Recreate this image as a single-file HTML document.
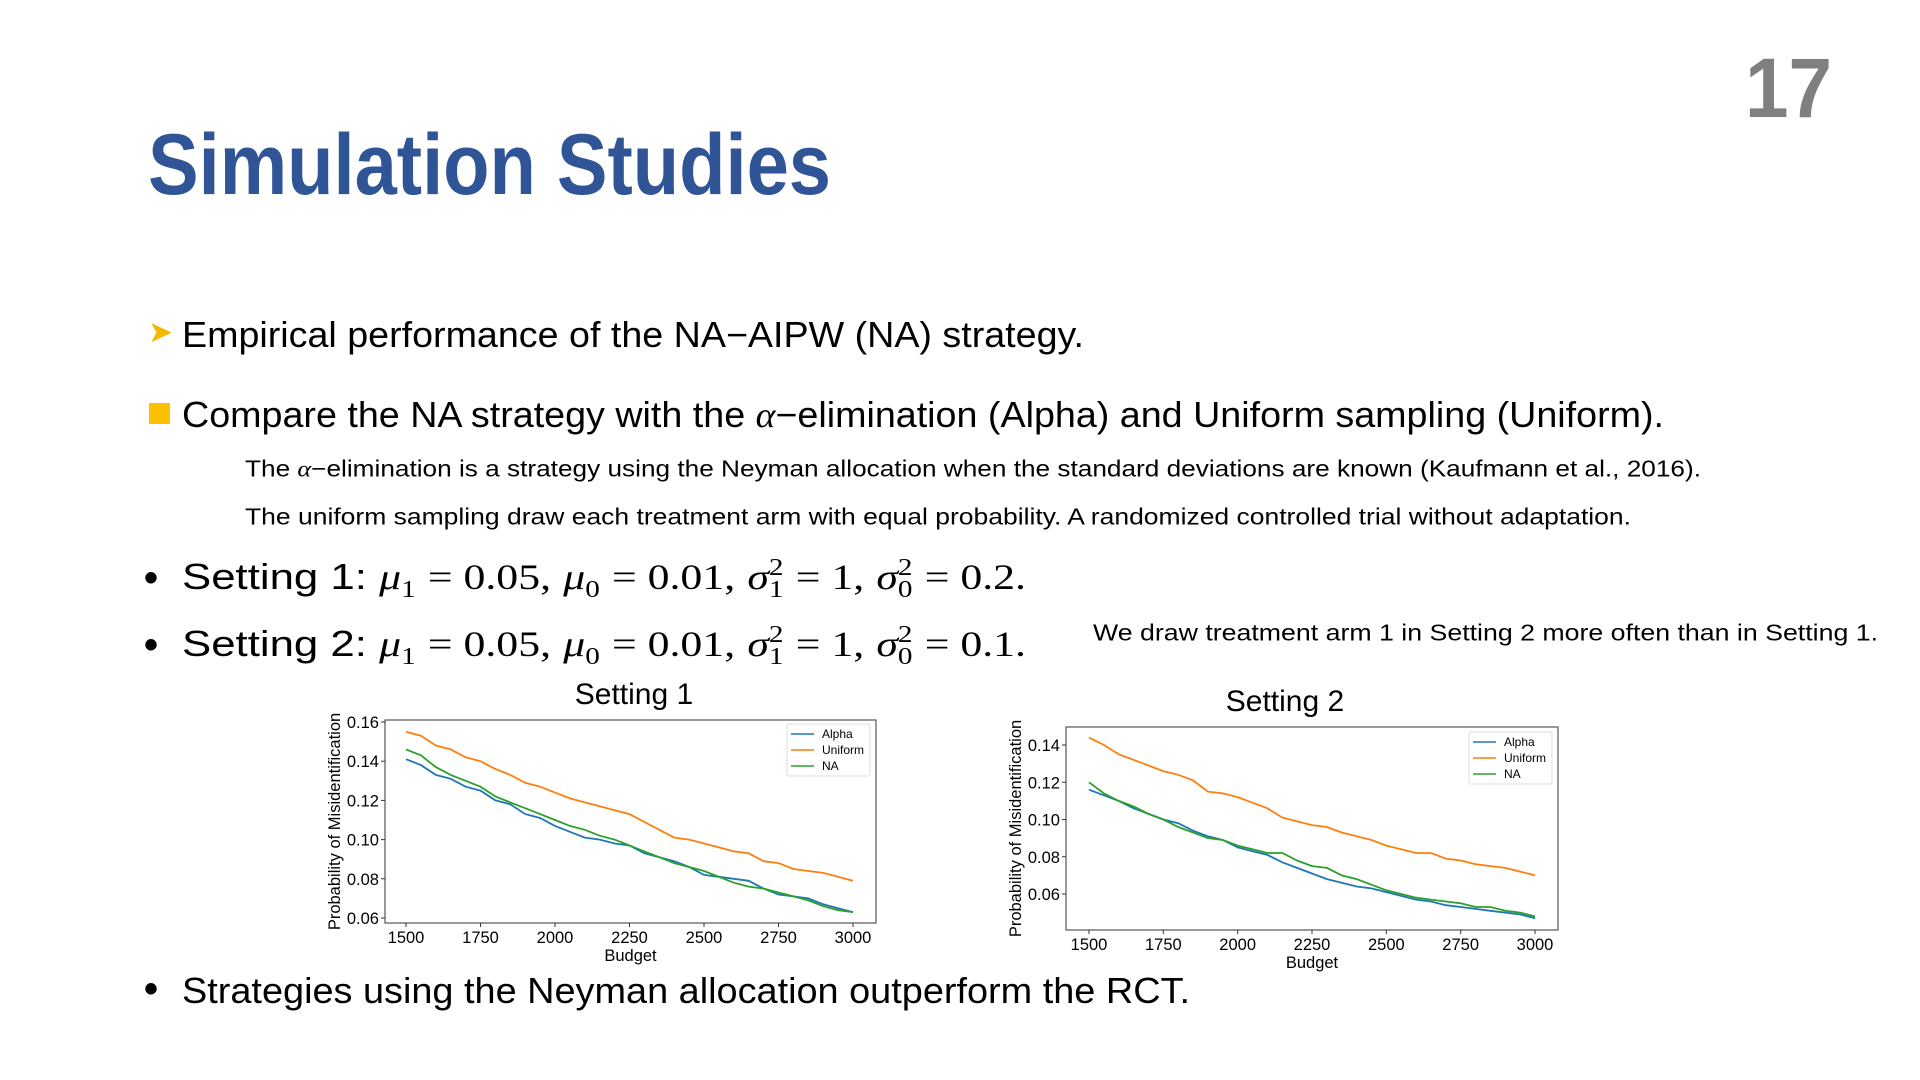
<!DOCTYPE html>
<html><head><meta charset="utf-8"><style>
body{margin:0;width:1920px;height:1080px;background:#fff;overflow:hidden;position:relative;font-family:"Liberation Sans","Noto Sans CJK JP",sans-serif;color:#000}
.t{position:absolute;white-space:nowrap;transform-origin:0 50%;line-height:1}
.m{font-family:"Liberation Serif",serif;font-style:italic}
.n{font-family:"Liberation Serif",serif}
svg text{font-family:"Liberation Sans","DejaVu Sans",sans-serif}
</style></head><body>
<div class="t" data-w="87" style="left:1745px;top:88px;font-size:84px;font-weight:bold;color:#7f7f7f">17</div>
<div class="t" data-w="683" style="left:148px;top:165px;font-size:86px;font-weight:bold;color:#2f5597">Simulation Studies</div>
<div class="t" style="left:148px;top:333px;font-size:30px;color:#f5b800">&#x27A4;</div>
<div class="t" data-w="902" style="left:182px;top:335px;font-size:36px">Empirical performance of the NA−AIPW (NA) strategy.</div>
<div style="position:absolute;left:149px;top:403px;width:21px;height:21px;background:#ffc000"></div>
<div class="t" data-w="1482" style="left:182px;top:415px;font-size:36px">Compare the NA strategy with the <span class="m">α</span>−elimination (Alpha) and Uniform sampling (Uniform).</div>
<div class="t" data-w="1456" style="left:245px;top:469px;font-size:23px">The <span class="m">α</span>−elimination is a strategy using the Neyman allocation when the standard deviations are known (Kaufmann et al., 2016).</div>
<div class="t" data-w="1386" style="left:245px;top:517px;font-size:23px">The uniform sampling draw each treatment arm with equal probability. A randomized controlled trial without adaptation.</div>
<div class="t" style="left:144px;top:578px;font-size:40px;font-weight:bold">•</div>
<div class="t" data-w="844" style="left:182px;top:580px;font-size:36px">Setting 1: <span class="m">μ</span><sub class="n" style="font-size:24px">1</sub> <span class="n">= 0.05,</span> <span class="m">μ</span><sub class="n" style="font-size:24px">0</sub> <span class="n">= 0.01,</span> <span class="m">σ</span><span style="display:inline-block;vertical-align:middle;line-height:0.9;font-size:24px" class="n">2<br>1</span> <span class="n">= 1,</span> <span class="m">σ</span><span style="display:inline-block;vertical-align:middle;line-height:0.9;font-size:24px" class="n">2<br>0</span> <span class="n">= 0.2.</span></div>
<div class="t" style="left:144px;top:645px;font-size:40px;font-weight:bold">•</div>
<div class="t" data-w="844" style="left:182px;top:647px;font-size:36px">Setting 2: <span class="m">μ</span><sub class="n" style="font-size:24px">1</sub> <span class="n">= 0.05,</span> <span class="m">μ</span><sub class="n" style="font-size:24px">0</sub> <span class="n">= 0.01,</span> <span class="m">σ</span><span style="display:inline-block;vertical-align:middle;line-height:0.9;font-size:24px" class="n">2<br>1</span> <span class="n">= 1,</span> <span class="m">σ</span><span style="display:inline-block;vertical-align:middle;line-height:0.9;font-size:24px" class="n">2<br>0</span> <span class="n">= 0.1.</span></div>
<div class="t" data-w="785" style="left:1093px;top:633px;font-size:23px">We draw treatment arm 1 in Setting 2 more often than in Setting 1.</div>
<div class="t" style="left:144px;top:989px;font-size:40px;font-weight:bold">•</div>
<div class="t" data-w="1008" style="left:182px;top:991px;font-size:36px">Strategies using the Neyman allocation outperform the RCT.</div>

<svg id="ch" width="1920" height="1080" style="position:absolute;left:0;top:0"></svg>
<script>
const budgets=[1500,1550,1600,1650,1700,1750,1800,1850,1900,1950,2000,2050,2100,2150,2200,2250,2300,2350,2400,2450,2500,2550,2600,2650,2700,2750,2800,2850,2900,2950,3000];
const xTicks=[1500,1750,2000,2250,2500,2750,3000];
const s1Alpha=[0.141,0.138,0.133,0.131,0.127,0.125,0.120,0.118,0.113,0.111,0.107,0.104,0.101,0.100,0.098,0.097,0.093,0.091,0.089,0.086,0.082,0.081,0.080,0.079,0.075,0.072,0.071,0.070,0.067,0.065,0.063];
const s1Uniform=[0.155,0.153,0.148,0.146,0.142,0.140,0.136,0.133,0.129,0.127,0.124,0.121,0.119,0.117,0.115,0.113,0.109,0.105,0.101,0.100,0.098,0.096,0.094,0.093,0.089,0.088,0.085,0.084,0.083,0.081,0.079];
const s1NA=[0.146,0.143,0.137,0.133,0.130,0.127,0.122,0.119,0.116,0.113,0.110,0.107,0.105,0.102,0.100,0.097,0.094,0.091,0.088,0.086,0.084,0.081,0.078,0.076,0.075,0.073,0.071,0.069,0.066,0.064,0.063];
const s1YTicks=[0.06,0.08,0.10,0.12,0.14,0.16];
const s2Alpha=[0.116,0.113,0.110,0.106,0.103,0.100,0.098,0.094,0.091,0.089,0.085,0.083,0.081,0.077,0.074,0.071,0.068,0.066,0.064,0.063,0.061,0.059,0.057,0.056,0.054,0.053,0.052,0.051,0.050,0.049,0.047];
const s2Uniform=[0.144,0.140,0.135,0.132,0.129,0.126,0.124,0.121,0.115,0.114,0.112,0.109,0.106,0.101,0.099,0.097,0.096,0.093,0.091,0.089,0.086,0.084,0.082,0.082,0.079,0.078,0.076,0.075,0.074,0.072,0.070];
const s2NA=[0.120,0.114,0.110,0.107,0.103,0.100,0.096,0.093,0.090,0.089,0.086,0.084,0.082,0.082,0.078,0.075,0.074,0.070,0.068,0.065,0.062,0.060,0.058,0.057,0.056,0.055,0.053,0.053,0.051,0.050,0.048];
const s2YTicks=[0.06,0.08,0.10,0.12,0.14];
const seriesNames=["Alpha","Uniform","NA"];
const colors=["#1f77b4","#ff7f0e","#2ca02c"];

const svg=document.getElementById('ch');const NS="http://www.w3.org/2000/svg";
function mk(tag,attrs,parent){const e=document.createElementNS(NS,tag);for(const k in attrs)e.setAttribute(k,attrs[k]);(parent||svg).appendChild(e);return e;}
function chart(cfg){
  const g=mk('g',{});
  
  
  const xs=v=>cfg.px0+(v-1500)/(3000-1500)*(cfg.px1-cfg.px0);
  const ys=v=>cfg.py0+(v-cfg.v0)/(cfg.v1-cfg.v0)*(cfg.py1-cfg.py0);
  const tt=mk('text',{x:cfg.tx,y:cfg.T-16,'font-size':30,'text-anchor':'middle'},g);tt.textContent=cfg.title;
  
  
  cfg.series.forEach((arr,si)=>{
    const pts=arr.map((v,i)=>xs(budgets[i]).toFixed(1)+','+ys(v).toFixed(1)).join(' ');
    const pl=mk('polyline',{points:pts,fill:'none',stroke:colors[si],'stroke-width':1.8},g);
    
    
  });
  const fr=mk('rect',{x:cfg.L,y:cfg.T,width:cfg.R-cfg.L,height:cfg.B-cfg.T,fill:'none',stroke:'#555','stroke-width':1.2},g);
  
  
  xTicks.forEach(v=>{const x=xs(v);mk('line',{x1:x,x2:x,y1:cfg.B,y2:cfg.B+4,stroke:'#333'},g);
    const t=mk('text',{x:x,y:cfg.B+20,'font-size':16.5,'text-anchor':'middle'},g);t.textContent=v;
    
    });
  cfg.yt.forEach(v=>{const y=ys(v);mk('line',{x1:cfg.L-4,x2:cfg.L,y1:y,y2:y,stroke:'#333'},g);
    const t=mk('text',{x:cfg.L-6,y:y+6,'font-size':16.5,'text-anchor':'end'},g);t.textContent=v.toFixed(2);
    
    });
  const xl=mk('text',{x:(cfg.L+cfg.R)/2,y:cfg.B+38,'font-size':16.5,'text-anchor':'middle'},g);xl.textContent='Budget';
  
  
  const yl=mk('text',{x:0,y:0,'font-size':16.5,'text-anchor':'middle',transform:`translate(${cfg.ylx},${(cfg.T+cfg.B)/2}) rotate(-90)`},g);yl.textContent='Probability of Misidentification';
  
  
  const lg=mk('g',{},g);
  
  
  mk('rect',{x:cfg.lx,y:cfg.ly,width:83,height:52,fill:'#fff',stroke:'#ddd',rx:2},lg);
  seriesNames.forEach((n,i)=>{const y=cfg.ly+10+i*16;
    mk('line',{x1:cfg.lx+4,x2:cfg.lx+27,y1:y,y2:y,stroke:colors[i],'stroke-width':1.5},lg);
    const t=mk('text',{x:cfg.lx+35,y:y+4,'font-size':12},lg);t.textContent=n;
    
    });
}
chart({name:'setting1-chart',title:'Setting 1',tx:634,L:385,R:876,T:720,B:923,px0:406,px1:853,v0:0.06,v1:0.16,py0:918,py1:722,yt:s1YTicks,series:[s1Alpha,s1Uniform,s1NA],ylx:340,lx:787,ly:724});
chart({name:'setting2-chart',title:'Setting 2',tx:1285,L:1066,R:1558,T:727,B:930,px0:1089,px1:1535,v0:0.06,v1:0.14,py0:894,py1:745,yt:s2YTicks,series:[s2Alpha,s2Uniform,s2NA],ylx:1021,lx:1469,ly:732});
document.querySelectorAll('[data-w]').forEach(el=>{const w=el.getBoundingClientRect().width;const t=+el.getAttribute('data-w');el.style.transform=`translateY(-50%) scaleX(${t/w})`;});
document.querySelectorAll('.t:not([data-w])').forEach(el=>{el.style.transform='translateY(-50%)';});
</script>
</body></html>
